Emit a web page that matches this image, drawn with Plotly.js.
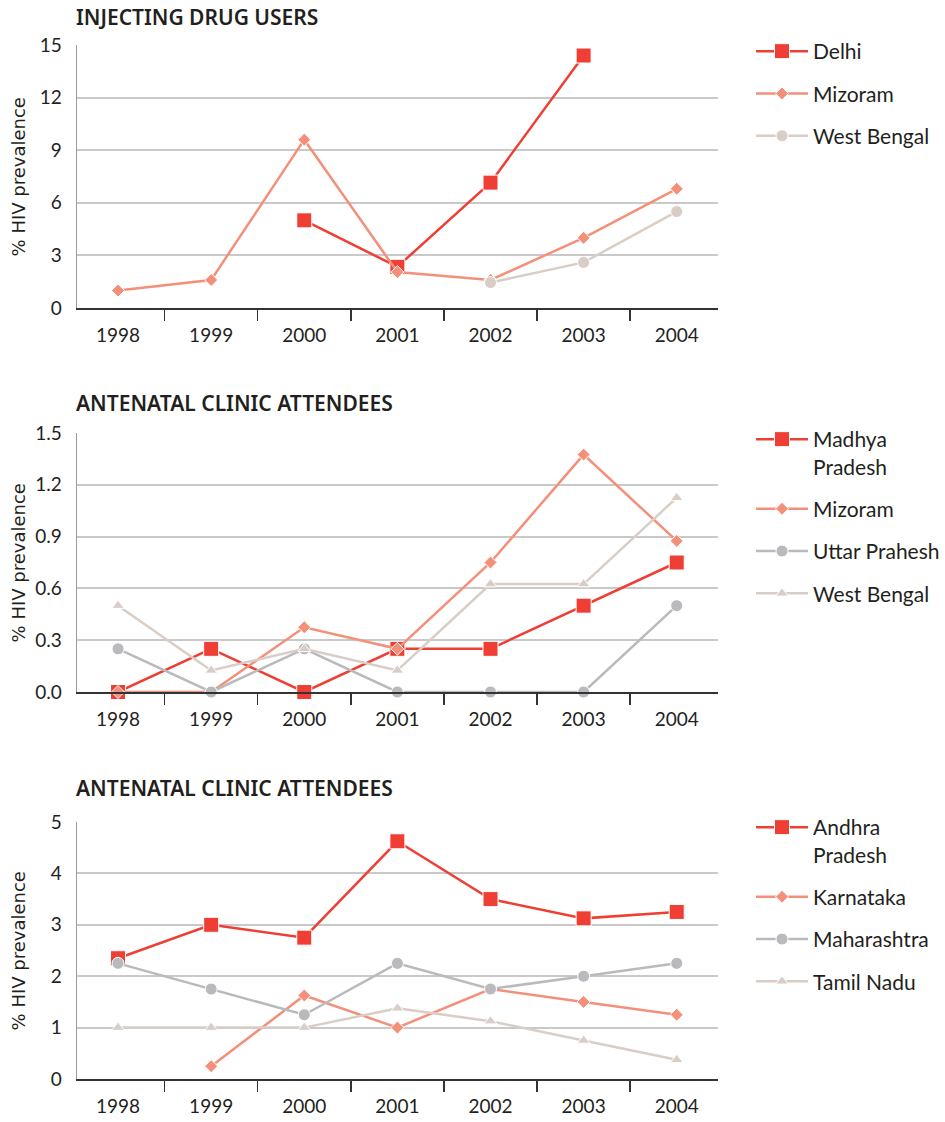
<!DOCTYPE html>
<html>
<head>
<meta charset="utf-8">
<script src="https://cdn.plot.ly/plotly-3.0.1.min.js"></script>
<style>html,body{margin:0;padding:0;background:#fff;}#chart{width:945px;height:1122px;}</style>
</head>
<body>
<div id="chart"></div>
<script>
// ---- Data ----
const years = ["1998", "1999", "2000", "2001", "2002", "2003", "2004"];

// Panel 1: Injecting drug users
const idu_delhi = [null, null, 5.0, 2.35, 7.15, 14.4, null];
const idu_mizoram = [1.0, 1.6, 9.6, 2.05, 1.6, 4.0, 6.8];
const idu_westBengal = [null, null, null, null, 1.45, 2.6, 5.5];

// Panel 2: Antenatal clinic attendees
const anc1_madhyaPradesh = [0, 0.25, 0, 0.25, 0.25, 0.5, 0.75];
const anc1_mizoram = [0, 0, 0.375, 0.25, 0.75, 1.375, 0.875];
const anc1_uttarPrahesh = [0.25, 0, 0.25, 0, 0, 0, 0.5];
const anc1_westBengal = [0.5, 0.125, 0.25, 0.125, 0.625, 0.625, 1.125];

// Panel 3: Antenatal clinic attendees
const anc2_andhraPradesh = [2.35, 3.0, 2.75, 4.625, 3.5, 3.125, 3.25];
const anc2_karnataka = [null, 0.25, 1.625, 1.0, 1.75, 1.5, 1.25];
const anc2_maharashtra = [2.25, 1.75, 1.25, 2.25, 1.75, 2.0, 2.25];
const anc2_tamilNadu = [1.0, 1.0, 1.0, 1.375, 1.125, 0.75, 0.375];

const panelTitles = ["INJECTING DRUG USERS", "ANTENATAL CLINIC ATTENDEES", "ANTENATAL CLINIC ATTENDEES"];
const yTitle = "% HIV prevalence";

// ---- Styles ----
const RED = "#ef3e33", SALMON = "#f4907a", GREY = "#b9babe", BEIGE = "#d9cdc6";
const TXT = "#231f20";
const W = 945, H = 1122;
const styles = {
  square: {color: RED, symbol: "square", size: 15},
  diamond: {color: SALMON, symbol: "diamond", size: 10},
  circle: {color: GREY, symbol: "circle", size: 12},
  circleBeige: {color: BEIGE, symbol: "circle", size: 12},
  triangle: {color: BEIGE, symbol: "triangle-up", size: 11}
};

function tr(name, y, st, ax, leg, grp) {
  return {
    type: "scatter", mode: "lines+markers", x: years, y: y, name: name,
    xaxis: "x" + ax, yaxis: "y" + ax, legend: leg, legendgroup: grp,
    cliponaxis: false,
    line: {color: st.color, width: 2.5},
    marker: {color: st.color, symbol: st.symbol, size: st.size, line: {color: "#ffffff", width: 1}}
  };
}

const data = [
  tr("Delhi", idu_delhi, styles.square, "", "legend", "a1"),
  tr("Mizoram", idu_mizoram, styles.diamond, "", "legend", "a2"),
  tr("West Bengal", idu_westBengal, styles.circleBeige, "", "legend", "a3"),
  tr("Madhya<br>Pradesh", anc1_madhyaPradesh, styles.square, "2", "legend2", "b1"),
  tr("Mizoram", anc1_mizoram, styles.diamond, "2", "legend2", "b2"),
  tr("Uttar Prahesh", anc1_uttarPrahesh, styles.circle, "2", "legend2", "b3"),
  tr("West Bengal", anc1_westBengal, styles.triangle, "2", "legend2", "b4"),
  tr("Andhra<br>Pradesh", anc2_andhraPradesh, styles.square, "3", "legend3", "c1"),
  tr("Karnataka", anc2_karnataka, styles.diamond, "3", "legend3", "c2"),
  tr("Maharashtra", anc2_maharashtra, styles.circle, "3", "legend3", "c3"),
  tr("Tamil Nadu", anc2_tamilNadu, styles.triangle, "3", "legend3", "c4")
];

// pixel geometry -> paper
const px = v => v / W;
const py = v => 1 - v / H;
const xDom = [px(77), px(722)];
const panels = [
  {top: 45, bottom: 308, range: [0, 15], dtick: 3, fmt: "", title: 17, leg: 31},
  {top: 433, bottom: 692, range: [0, 1.5], dtick: 0.3, fmt: ".1f", title: 403, leg: 419},
  {top: 822, bottom: 1079, range: [0, 5], dtick: 1, fmt: "", title: 788, leg: 807}
];

const tickFont = {family: "Lato, 'Open Sans', sans-serif", size: 19, color: TXT};
const layout = {
  width: W, height: H,
  margin: {l: 0, r: 0, t: 0, b: 0},
  paper_bgcolor: "#ffffff", plot_bgcolor: "#ffffff",
  showlegend: true,
  annotations: []
};

panels.forEach((p, i) => {
  const sfx = i === 0 ? "" : String(i + 1);
  layout["xaxis" + sfx] = {
    domain: xDom, anchor: "y" + sfx, type: "category",
    showgrid: false, showline: true, linecolor: "#333333", linewidth: 2,
    ticks: "outside", tickson: "boundaries", ticklen: 11, tickwidth: 1.5, tickcolor: "#333333",
    tickfont: tickFont, ticklabelstandoff: 9, fixedrange: true
  };
  layout["yaxis" + sfx] = {
    domain: [py(p.bottom), py(p.top)], anchor: "x" + sfx,
    range: p.range, dtick: p.dtick, tick0: 0, tickformat: p.fmt,
    showgrid: true, gridcolor: "#c9c9c9", gridwidth: 2,
    zeroline: false, showline: true, linecolor: "#9a9a9a", linewidth: 1,
    ticks: "", tickfont: tickFont, ticklabelstandoff: 10, fixedrange: true
  };
  const legKey = i === 0 ? "legend" : "legend" + (i + 1);
  layout[legKey] = {
    x: px(755), y: py(p.leg), xanchor: "left", yanchor: "top",
    xref: "paper", yref: "paper",
    bgcolor: "rgba(0,0,0,0)", borderwidth: 0,
    font: {family: "Lato, 'Open Sans', sans-serif", size: 21, color: TXT},
    traceorder: "grouped", tracegroupgap: 12, itemwidth: 52, valign: "top",
    itemclick: false, itemdoubleclick: false
  };
  layout.annotations.push({
    text: panelTitles[i], xref: "paper", yref: "paper",
    x: px(74), y: py(p.title), xanchor: "left", yanchor: "middle", showarrow: false,
    font: {family: "'Noto Sans', 'Open Sans', sans-serif", size: 21, color: TXT, weight: 600}
  });
  layout.annotations.push({
    text: yTitle, xref: "paper", yref: "paper", textangle: -90,
    x: px(19), y: py((p.top + p.bottom) / 2), xanchor: "center", yanchor: "middle", showarrow: false,
    font: {family: "'DejaVu Sans', Verdana, sans-serif", size: 18, color: TXT}
  });
});

Plotly.newPlot("chart", data, layout, {displayModeBar: false, staticPlot: true});
</script>
</body>
</html>
